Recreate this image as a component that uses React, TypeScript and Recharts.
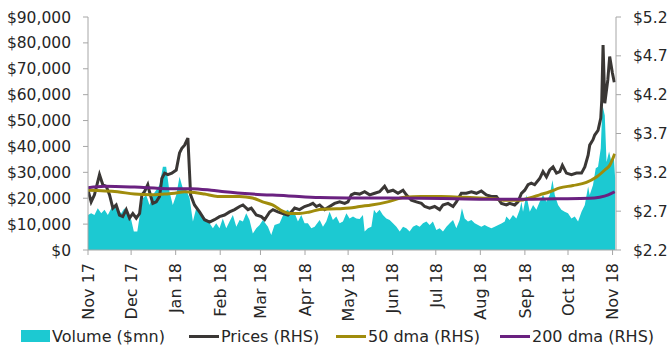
import React from "react";
import { ComposedChart, Area, Line, XAxis, YAxis, Legend } from "recharts";

// Days since 1 Nov 2017 for each month tick
const monthDays = [0, 30, 61, 92, 120, 151, 181, 212, 242, 273, 304, 334, 365];
const monthLabels = ["Nov 17", "Dec 17", "Jan 18", "Feb 18", "Mar 18", "Apr 18", "May 18", "Jun 18", "Jul 18", "Aug 18", "Sep 18", "Oct 18", "Nov 18"];

const leftTicks = [0, 10000, 20000, 30000, 40000, 50000, 60000, 70000, 80000, 90000];
const rightTicks = [2.2, 2.7, 3.2, 3.7, 4.2, 4.7, 5.2];

// [day, volume $mn]
const volumeSeries: [number, number][] = [
  [0, 13500], [2.2, 14200], [4.5, 13500], [6.8, 16100], [9.2, 14200], [11.5, 15500], [13.8, 13500], [16.2, 16100],
  [18.5, 17400], [20.7, 15500], [23.1, 14200], [25.4, 16100], [27.7, 13500], [30.1, 11600], [31.9, 7100], [34.3, 7100],
  [35.9, 12900], [38.2, 20000], [40.5, 21200], [42.8, 17400], [45.1, 21200], [47.5, 23200], [49.8, 25100], [52.1, 32200],
  [54.4, 32200], [56.7, 22500], [59, 17400], [61.4, 21200], [63.7, 28300], [66, 23800], [68.4, 23200], [70.7, 20000],
  [73, 11000], [75.3, 16100], [77.6, 14800], [79.9, 13500], [82.3, 11600], [84.6, 10300], [86.9, 8400], [89.2, 10300],
  [91.5, 8400], [93.8, 12200], [96.2, 8400], [98.5, 11000], [100.8, 13500], [103.2, 9000], [105.5, 11600], [107.8, 11000],
  [110.1, 14200], [112.4, 11600], [114.7, 6400], [117.1, 8400], [119.4, 9700], [121.7, 11600], [125.2, 9000], [127.5, 5800],
  [129.8, 9700], [133.3, 10300], [136.8, 14800], [139.1, 15500], [141.5, 13500], [143.8, 14200], [146.1, 11000], [148.4, 13500],
  [150.7, 10300], [153, 10300], [155.4, 8400], [157.7, 9000], [161.2, 11600], [163.5, 9000], [165.8, 11000], [168.1, 14800],
  [170.4, 11600], [172.8, 12900], [175.1, 10300], [177.4, 11000], [179.8, 14200], [182, 12200], [184.4, 12900], [186.7, 12200],
  [189, 12000], [191.3, 13500], [192.5, 7100], [194.8, 8400], [197.2, 9000], [199, 15500], [200.6, 14200], [202.9, 15500],
  [205.2, 13500], [207.6, 12200], [209.9, 11600], [212.2, 10300], [214.6, 9000], [216.9, 7100], [219.2, 9000], [221.5, 8400],
  [223.8, 7100], [226.1, 9000], [228.5, 9700], [230.8, 9000], [233.1, 10300], [235.5, 11000], [237.7, 9700], [240, 11000],
  [242.4, 7700], [244.7, 8400], [247, 7100], [249.4, 9000], [251.7, 10300], [254, 11600], [256.3, 8400], [258.6, 11600],
  [260.2, 16100], [262.1, 12200], [264.4, 11000], [266.8, 11600], [269.1, 10300], [271.4, 9700], [273.7, 9000], [276, 9700],
  [278.3, 9000], [280.7, 8400], [283, 9000], [285.5, 9700], [288, 10300], [290, 11000], [291.1, 12900], [293.4, 11600],
  [295.7, 13500], [298.1, 12200], [300.4, 15500], [301.6, 18600], [302.7, 14800], [305, 21200], [307.4, 14800], [309.7, 17400],
  [312, 15500], [314.3, 18600], [316.6, 21200], [319, 18600], [321.3, 21200], [323.2, 27000], [324.8, 21200], [327.1, 17400],
  [329.4, 15500], [331.7, 14800], [334, 14200], [336.4, 12200], [338.7, 12900], [341, 11000], [343.4, 14800], [345.7, 17400],
  [348, 24500], [349.1, 21200], [351.4, 25100], [353.3, 31600], [354.9, 32200], [356.8, 39300], [358, 56000], [359.6, 52000],
  [360.8, 34000], [362.6, 38000], [364.2, 34000], [365.8, 36700], [366.8, 27700],
];

// [day, price $]
const priceSeries: [number, number][] = [
  [0, 2.97], [2.2, 2.82], [4.5, 2.91], [8, 3.17], [10.3, 3.04], [12.7, 3.02], [15, 2.91], [17.3, 2.74],
  [19.6, 2.78], [21.9, 2.65], [24.2, 2.63], [26.6, 2.72], [28.9, 2.61], [31.2, 2.67], [33.6, 2.61], [35.9, 2.67],
  [37.5, 2.91], [39.3, 2.95], [41.6, 3.04], [42.8, 2.95], [45.1, 2.8], [47.5, 2.82], [49.8, 2.89], [51.4, 3.12],
  [53.3, 3.19], [55.6, 3.17], [58.3, 3.19], [61.4, 3.23], [63.7, 3.45], [65.3, 3.51], [67.2, 3.55], [69.5, 3.64],
  [71.4, 2.91], [74.1, 2.78], [77.6, 2.69], [81.1, 2.59], [84.6, 2.56], [88, 2.59], [91.5, 2.63],
  [95, 2.65], [98.5, 2.69], [102, 2.72], [105.5, 2.76], [107.8, 2.78], [111.3, 2.72], [113.6, 2.74], [117.1, 2.65],
  [120.6, 2.63], [122.9, 2.59], [126.4, 2.69], [128.7, 2.72], [132.1, 2.69], [135.6, 2.67], [139.1, 2.65], [141.5, 2.69],
  [143.8, 2.74], [147.2, 2.72], [150.7, 2.76], [154.2, 2.78], [156.5, 2.8], [158.9, 2.76], [161.2, 2.78], [164.7, 2.72],
  [168.1, 2.76], [171.6, 2.8], [175.1, 2.82], [178.6, 2.8], [180.9, 2.82], [183.2, 2.91], [185.5, 2.93], [189, 2.92],
  [192.5, 2.95], [196, 2.91], [199.5, 2.93], [202.9, 2.95], [206.4, 3.02], [208.7, 2.95], [212.2, 2.97], [215.7, 2.93],
  [219.2, 2.97], [221.5, 2.91], [225, 2.84], [228.5, 2.82], [232, 2.8], [234.3, 2.76], [237.7, 2.74], [241.2, 2.76],
  [244.7, 2.72], [247, 2.78], [250.5, 2.8], [254, 2.76], [256.3, 2.82], [259.8, 2.93], [263.3, 2.93], [266.8, 2.95],
  [270.3, 2.93], [273.7, 2.96], [277.2, 2.91], [280.7, 2.89], [284.2, 2.89], [287.7, 2.8], [291.1, 2.78], [293.4, 2.8],
  [296.9, 2.78], [299.2, 2.82], [301.6, 2.93], [303.9, 2.97], [306.2, 3.04], [308.5, 3.06], [310.8, 3.04], [314.3, 3.12],
  [316.6, 3.21], [319, 3.14], [321.3, 3.23], [323.6, 3.27], [326, 3.19], [328.3, 3.21], [330.1, 3.29], [332.9, 3.19],
  [336.4, 3.17], [339.9, 3.19], [343.4, 3.19], [345.7, 3.27], [348, 3.42], [349.1, 3.55], [351.4, 3.62], [352.6, 3.68],
  [354.9, 3.74], [356.8, 3.9], [357.5, 4.13], [358.4, 4.84], [359.6, 4.09], [361.7, 4.39], [363, 4.69], [364.9, 4.48],
  [366.2, 4.36],
];

// [day, 50-day moving average $]
const dma50Series: [number, number][] = [
  [0, 2.97], [20.5, 2.95], [32.4, 2.92], [44, 2.91], [53.3, 2.92], [60.2, 2.93], [67.2, 2.95], [74.1, 2.94],
  [81.1, 2.92], [90.2, 2.89], [105.5, 2.89], [114.5, 2.87], [121.5, 2.82], [128.4, 2.78], [135.4, 2.7], [140.3, 2.67],
  [147.2, 2.67], [154.2, 2.69], [161.2, 2.72], [172.8, 2.73], [182, 2.74], [189, 2.76], [197.2, 2.78], [208.5, 2.82],
  [220.3, 2.88], [232, 2.89], [245.4, 2.89], [259.8, 2.88], [272.6, 2.87], [283, 2.86], [291.1, 2.84], [300.4, 2.84],
  [307.4, 2.87], [314.3, 2.91], [321.3, 2.95], [328.3, 3.0], [337.5, 3.03], [346.8, 3.07], [353.8, 3.14], [359.6, 3.23],
  [363, 3.29], [366.5, 3.44],
];

// [day, 200-day moving average $]
const dma200Series: [number, number][] = [
  [0, 3.0], [11.7, 3.02], [32.4, 3.01], [55.6, 2.99], [71.8, 2.99], [85.7, 2.97], [95, 2.95], [114.7, 2.92],
  [137.9, 2.9], [161.2, 2.875], [184.4, 2.87], [207.6, 2.868], [232, 2.865], [255, 2.86], [279, 2.855], [302.5, 2.855],
  [326, 2.86], [349, 2.865], [356, 2.88], [362, 2.91], [366.5, 2.95],
];

const CYAN = "#1CC9D2";
const BLACK = "#3A3735";
const OLIVE = "#A08C0C";
const PURPLE = "#6A2180";
const AXIS = "#A6A6A6";
const TEXT = "#262626";
const FONT = "DejaVu Sans";

const toRows = (s: [number, number][]) => s.map(([d, v]) => ({ d, v }));
const volumeData = toRows(volumeSeries);
const priceData = toRows(priceSeries);
const dma50Data = toRows(dma50Series);
const dma200Data = toRows(dma200Series);

const XTick = (props: any) => {
  const { x, y, payload } = props;
  const i = monthDays.indexOf(payload.value);
  return (
    <g transform={`translate(${x},${y})`}>
      <text transform="rotate(-90)" textAnchor="end" dy="0.36em" fill={TEXT} fontSize={16} fontFamily={FONT}>
        {monthLabels[i]}
      </text>
    </g>
  );
};

const legendItems = [
  { label: "Volume ($mn)", color: CYAN, box: true, left: 21 },
  { label: "Prices (RHS)", color: BLACK, box: false, left: 189 },
  { label: "50 dma (RHS)", color: OLIVE, box: false, left: 336 },
  { label: "200 dma (RHS)", color: PURPLE, box: false, left: 500 },
];

const renderLegend = () => (
  <div style={{ position: "relative", width: 667, height: 28, fontFamily: FONT, fontSize: 16, color: TEXT }}>
    {legendItems.map((it) => (
      <div key={it.label} style={{ position: "absolute", left: it.left, top: 0, height: 28, display: "flex", alignItems: "center" }}>
        {it.box ? (
          <span style={{ display: "inline-block", width: 29, height: 12, background: it.color }} />
        ) : (
          <span style={{ display: "inline-block", width: 30, height: 3, background: it.color }} />
        )}
        <span style={{ marginLeft: 2, whiteSpace: "nowrap" }}>{it.label}</span>
      </div>
    ))}
  </div>
);

export default function App() {
  return (
    <div style={{ position: "absolute", left: 0, top: 0, width: 667, height: 350, background: "#fff" }}>
      <ComposedChart width={667} height={350} margin={{ top: 17, right: 0, bottom: 0, left: 0 }}>
        <XAxis
          type="number"
          dataKey="d"
          domain={[0, 367.4]}
          allowDataOverflow
          ticks={monthDays}
          interval={0}
          height={72}
          tick={<XTick />}
          tickSize={5}
          tickMargin={8}
          axisLine={{ stroke: AXIS }}
          tickLine={{ stroke: AXIS }}
        />
        <YAxis
          yAxisId="vol"
          orientation="left"
          width={88}
          domain={[0, 90000]}
          ticks={leftTicks}
          interval={0}
          tickFormatter={(v: number) => "$" + v.toLocaleString("en-US")}
          tick={{ fill: TEXT, fontSize: 15.5, fontFamily: FONT }}
          tickSize={5}
          tickMargin={12}
          axisLine={{ stroke: AXIS }}
          tickLine={{ stroke: AXIS }}
        />
        <YAxis
          yAxisId="px"
          orientation="right"
          width={51}
          domain={[2.2, 5.2]}
          ticks={rightTicks}
          interval={0}
          tickFormatter={(v: number) => "$" + v.toFixed(1)}
          tick={{ fill: TEXT, fontSize: 15.5, fontFamily: FONT, textAnchor: "start" }}
          tickSize={5}
          tickMargin={12}
          axisLine={{ stroke: AXIS }}
          tickLine={{ stroke: AXIS }}
        />
        <Legend verticalAlign="bottom" height={28} content={renderLegend} wrapperStyle={{ left: 0, width: 667 }} />
        <Area
          yAxisId="vol"
          data={volumeData}
          dataKey="v"
          type="linear"
          fill={CYAN}
          fillOpacity={1}
          stroke="none"
          isAnimationActive={false}
          name="Volume ($mn)"
        />
        <Line yAxisId="px" data={priceData} dataKey="v" type="linear" stroke={BLACK} strokeWidth={3} dot={false} isAnimationActive={false} name="Prices (RHS)" />
        <Line yAxisId="px" data={dma50Data} dataKey="v" type="monotone" stroke={OLIVE} strokeWidth={3} dot={false} isAnimationActive={false} name="50 dma (RHS)" />
        <Line yAxisId="px" data={dma200Data} dataKey="v" type="monotone" stroke={PURPLE} strokeWidth={3} dot={false} isAnimationActive={false} name="200 dma (RHS)" />
      </ComposedChart>
    </div>
  );
}
